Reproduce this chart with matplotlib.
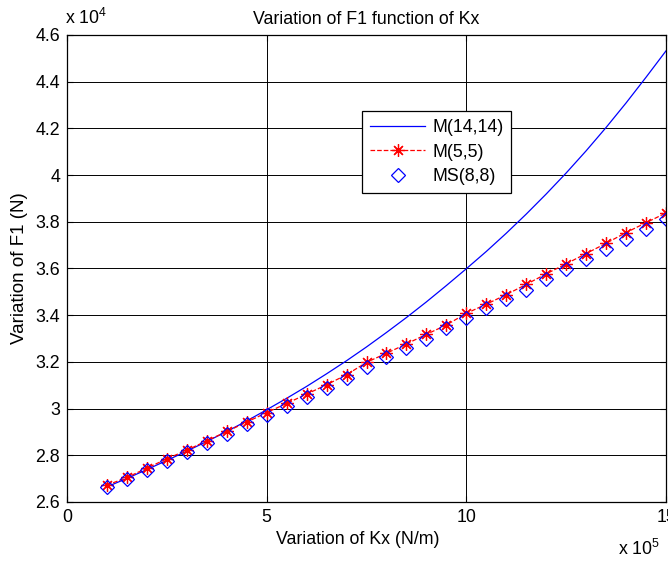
import matplotlib
matplotlib.use('Agg')
import matplotlib.pyplot as plt
import numpy as np

plt.rcParams['font.family'] = ['Liberation Sans', 'DejaVu Sans']
plt.rcParams['mathtext.fontset'] = 'custom'
plt.rcParams['mathtext.rm'] = 'Liberation Sans'
plt.rcParams['font.size'] = 12.8

# Kx in units of 1e5 N/m
kx = [1, 1.5, 2, 2.5, 3, 3.5, 4, 4.5, 5, 5.5, 6, 6.5, 7, 7.5, 8, 8.5, 9, 9.5,
      10, 10.5, 11, 11.5, 12, 12.5, 13, 13.5, 14, 14.5, 15]

# F1 in units of 1e4 N
f_m14 = [2.665, 2.701, 2.739, 2.778, 2.818, 2.859, 2.902, 2.947, 2.995, 3.044,
         3.095, 3.149, 3.205, 3.264, 3.326, 3.390, 3.457, 3.527, 3.599, 3.673,
         3.751, 3.833, 3.919, 4.009, 4.104, 4.204, 4.309, 4.419, 4.532]
f_m5 = [2.672, 2.705, 2.745, 2.785, 2.822, 2.862, 2.902, 2.942, 2.983, 3.022,
        3.062, 3.102, 3.145, 3.198, 3.237, 3.277, 3.318, 3.358, 3.408, 3.447,
        3.488, 3.532, 3.577, 3.62, 3.664, 3.708, 3.754, 3.796, 3.838]
f_ms8 = [2.665, 2.70, 2.738, 2.776, 2.814, 2.852, 2.891, 2.932, 2.972, 3.01,
         3.05, 3.09, 3.13, 3.18, 3.222, 3.26, 3.30, 3.344, 3.387, 3.43, 3.47,
         3.51, 3.553, 3.597, 3.64, 3.683, 3.725, 3.77, 3.81]

fig = plt.figure(figsize=(6.68, 5.62), dpi=100)
ax = fig.add_axes([67 / 668, 60 / 562, 599 / 668, 467 / 562])

ax.plot(kx, f_m14, color='b', linewidth=0.9, label='M(14,14)')
ax.plot(kx, f_m5, color='r', linestyle='--', linewidth=0.9,
        marker=(8, 2, 0), markersize=9, markeredgewidth=0.9, label='M(5,5)')
ax.plot(kx, f_ms8, linestyle='none', marker='D', markersize=7.5,
        markerfacecolor='none', markeredgecolor='b', markeredgewidth=0.9,
        label='MS(8,8)')

ax.set_xlim(0, 15)
ax.set_ylim(2.6, 4.6)
ax.set_xticks([0, 5, 10, 15])
ax.set_yticks(np.arange(2.6, 4.61, 0.2))
ax.set_yticklabels(['2.6', '2.8', '3', '3.2', '3.4', '3.6', '3.8', '4', '4.2', '4.4', '4.6'])
ax.tick_params(direction='in', length=4, width=0.8, top=True, right=True,
               labelsize=12.8, pad=5)
ax.grid(True, color='black', linewidth=0.7)
for s in ax.spines.values():
    s.set_linewidth(0.9)

ax.set_title('Variation of F1 function of Kx', fontsize=12.8, pad=8)
ax.set_xlabel('Variation of Kx (N/m)', fontsize=12.8)
ax.xaxis.set_label_coords((358 - 67) / 599, -(540 - 502) / 467)
ax.xaxis.label.set_va('center')
ax.set_ylabel('Variation of F1 (N)', fontsize=13.5, labelpad=5)

fig.text(65 / 668, 1 - 18 / 562, r'x 10$^{4}$', fontsize=12.8, ha='left', va='center')
fig.text(618 / 668, 1 - 549 / 562, r'x 10$^{5}$', fontsize=12.8, ha='left', va='center')

leg = ax.legend(loc='upper left', bbox_to_anchor=(0.4925, 0.837), fontsize=12.8,
                fancybox=False, framealpha=1, edgecolor='black',
                borderaxespad=0, borderpad=0.45, handlelength=3.1,
                handletextpad=0.4, labelspacing=0.42)
leg.get_frame().set_linewidth(0.9)

fig.savefig('out.png', dpi=100)
